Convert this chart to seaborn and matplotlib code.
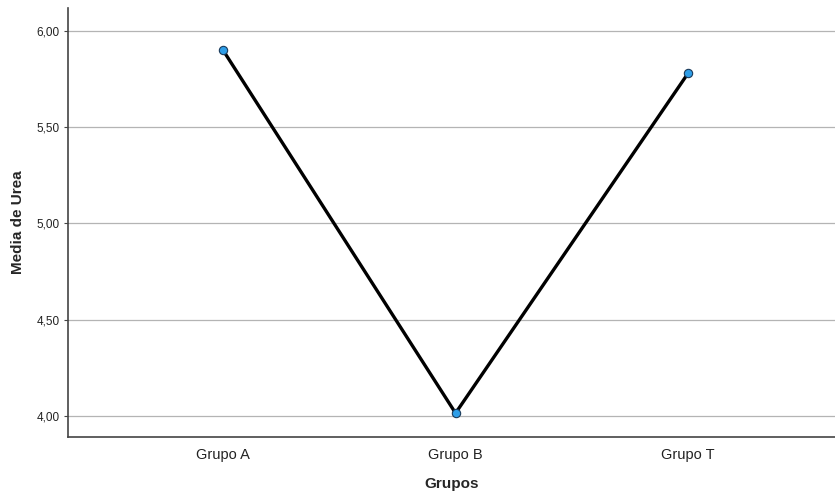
import seaborn as sns
import matplotlib.pyplot as plt
import pandas as pd

grupos = ['Grupo A', 'Grupo B', 'Grupo T']
media_urea = [5.90, 4.015, 5.78]
y_ticks = [4.0, 4.5, 5.0, 5.5, 6.0]
y_tick_labels = ['4,00', '4,50', '5,00', '5,50', '6,00']

df = pd.DataFrame({'grupo': grupos, 'urea': media_urea})

sns.set_style('white')
plt.rcParams['font.family'] = ['Liberation Sans', 'DejaVu Sans']

fig = plt.figure(figsize=(8.35, 5), dpi=100)
ax = fig.add_axes([0.0814, 0.126, 0.9186, 0.858])

# grid lines
for t in y_ticks:
    ax.axhline(t, color='#b4b4b4', linewidth=0.9, zorder=0)

sns.lineplot(data=df, x='grupo', y='urea', sort=False, color='black', linewidth=2.4,
             marker='o', markersize=6, markerfacecolor='#2e9ee8', markeredgecolor='#1a3a5a',
             markeredgewidth=0.8, ax=ax)

ax.set_xlim(-0.667, 2.632)
ax.set_ylim(3.891, 6.119)
ax.set_yticks(y_ticks)
ax.set_yticklabels(y_tick_labels, fontsize=8.5, color='#222222')
ax.tick_params(axis='x', labelsize=10.5, colors='#222222', length=0, pad=8)
ax.tick_params(axis='y', length=3, width=0.8, color='#444444', left=True, pad=3)

ax.spines['top'].set_visible(False)
ax.spines['right'].set_visible(False)
ax.spines['left'].set_color('#444444')
ax.spines['bottom'].set_color('#444444')
ax.spines['left'].set_linewidth(1.2)
ax.spines['bottom'].set_linewidth(1.2)

ax.set_xlabel('Grupos', fontsize=11, fontweight='bold', labelpad=11)
ax.set_ylabel('Media de Urea', fontsize=11, fontweight='bold', labelpad=8)

plt.savefig('out.png', dpi=100)
